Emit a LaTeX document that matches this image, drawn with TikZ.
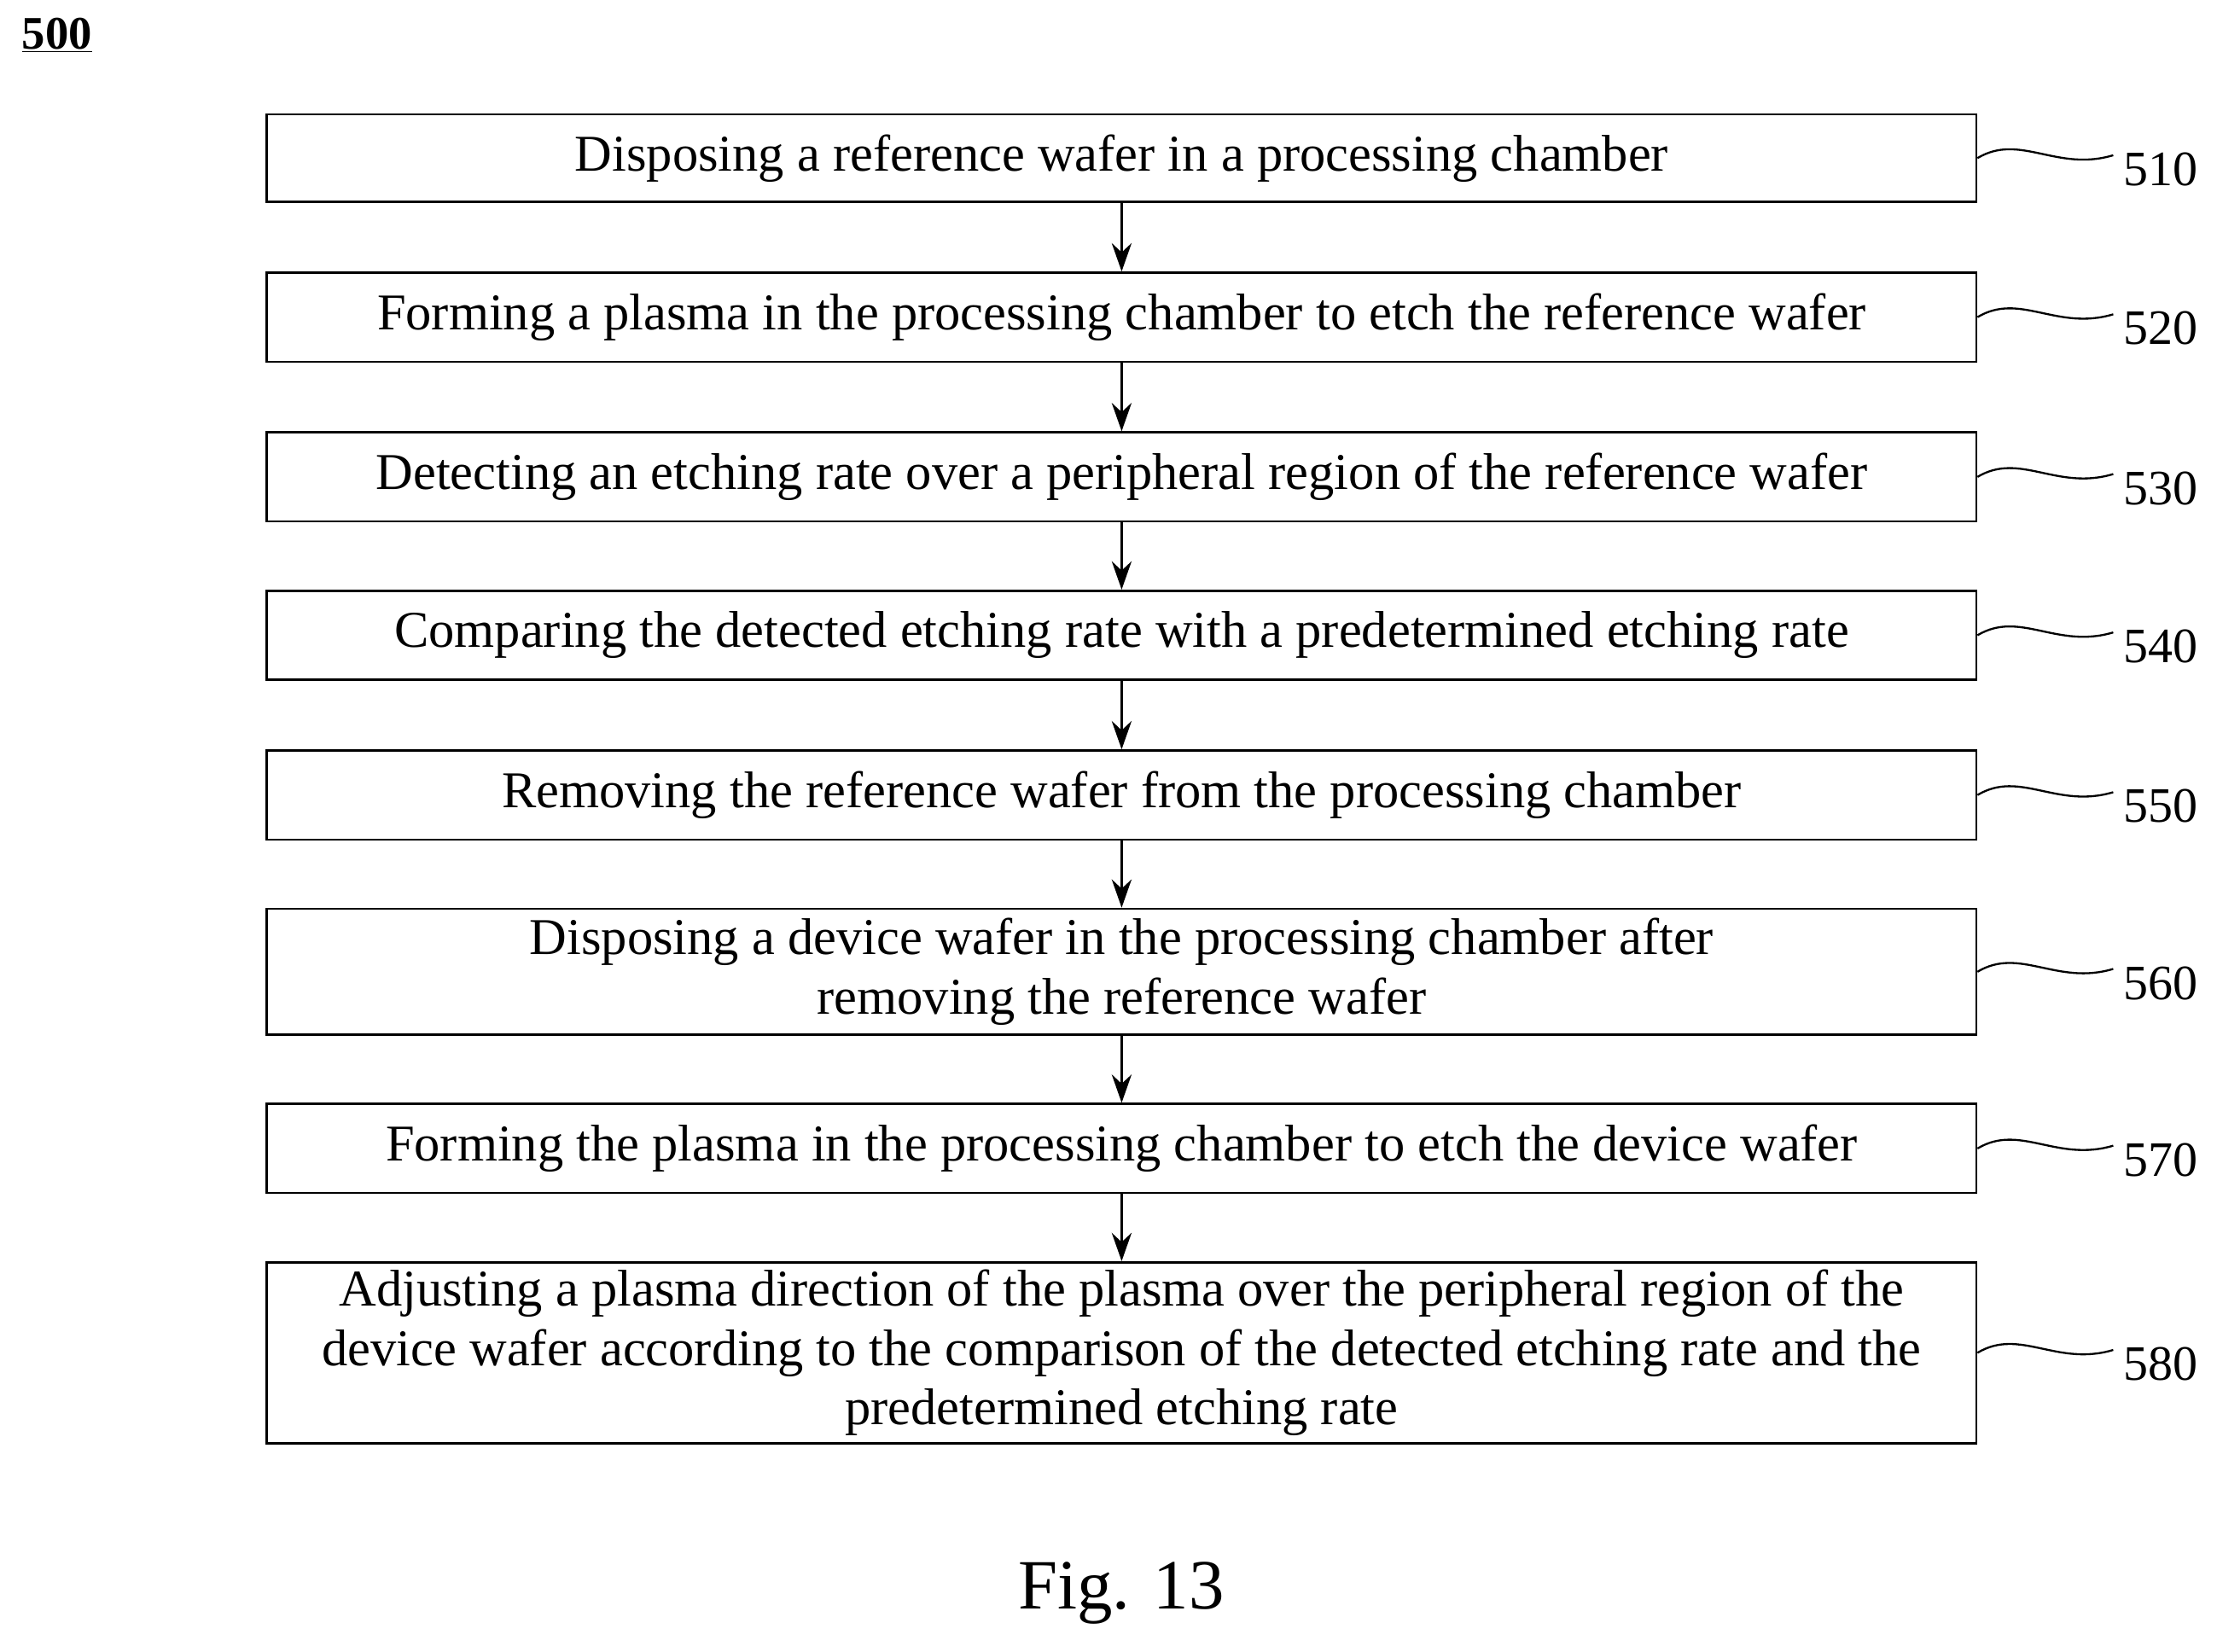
\documentclass[tikz,border=0pt]{standalone}
\usetikzlibrary{arrows.meta}
\usepackage{fontspec}
\setmainfont{Liberation Serif}
\begin{document}
\begin{tikzpicture}[x=1pt,y=-1pt,
  box/.style={draw,line width=1.6pt,minimum width=1209pt,inner sep=0pt,align=center,font=\fontsize{36.5}{42}\selectfont,anchor=north west},
  arr/.style={-{Stealth[length=20pt,width=14pt]},line width=1.8pt},
  lab/.style={font=\fontsize{35}{40}\selectfont},
  sq/.style={line width=1.4pt}]
\useasboundingbox (0,0) rectangle (1568,1168);
\node[lab,anchor=west,font=\bfseries\fontsize{33}{40}\selectfont] (n500) at (12,25) {\underline{500}};
\def\mk#1#2#3#4{\node[box,minimum height=#3pt] (b#1) at (188,#2) {#4};}
\mk{510}{80}{62}{Disposing a reference wafer in a processing chamber}
\mk{520}{192}{63}{Forming a plasma in the processing chamber to etch the reference wafer}
\mk{530}{305}{63}{Detecting an etching rate over a peripheral region of the reference wafer}
\mk{540}{417}{63}{Comparing the detected etching rate with a predetermined etching rate}
\mk{550}{530}{63}{Removing the reference wafer from the processing chamber}
\mk{560}{642}{89}{Disposing a device wafer in the processing chamber after\\removing the reference wafer}
\mk{570}{780}{63}{Forming the plasma in the processing chamber to etch the device wafer}
\mk{580}{892}{128}{Adjusting a plasma direction of the plasma over the peripheral region of the\\device wafer according to the comparison of the detected etching rate and the\\predetermined etching rate}
\foreach \a/\b in {510/520,520/530,530/540,540/550,550/560,560/570,570/580}{\draw[arr] (b\a.south) -- (b\b.north);}
\foreach \n in {510,520,530,540,550,560,570,580}{
  \coordinate (s\n) at ([xshift=96pt,yshift=2pt]b\n.east);
  \draw[sq] (b\n.east) .. controls +(30,-18) and +(-40,12) .. (s\n);
  \node[lab,anchor=west] (l\n) at ([xshift=4pt,yshift=-10pt]s\n) {\n};
}
\node[font=\fontsize{50}{60}\selectfont] (fig) at (793,1127) {Fig. 13};
\end{tikzpicture}
\end{document}
